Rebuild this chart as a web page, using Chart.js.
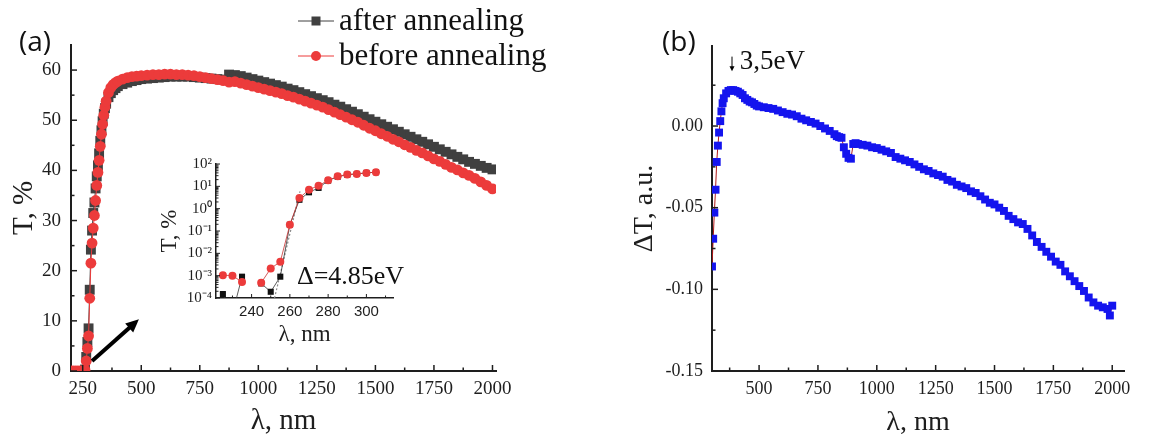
<!DOCTYPE html>
<html><head><meta charset="utf-8">
<script src="https://cdn.jsdelivr.net/npm/chart.js@4.4.1/dist/chart.umd.min.js"></script>
<style>
html,body{margin:0;padding:0;background:#fff;}
body{width:1158px;height:441px;position:relative;overflow:hidden;}
.box{position:absolute;}
</style></head><body>
<div class="box" style="left:0;top:0;width:580px;height:441px"><canvas id="ca" width="580" height="441"></canvas></div>
<div class="box" style="left:140px;top:150px;width:290px;height:200px"><canvas id="ci" width="290" height="200"></canvas></div>
<div class="box" style="left:620px;top:0;width:538px;height:441px"><canvas id="cb" width="538" height="441"></canvas></div>
<script>
// ---------- DATA ----------
const seriesNames = ['after annealing', 'before annealing'];

const wavelengthA = [200,210,220,230,240,250,255,260,265,270,275,280,285,290,295,300,305,310,315,320,325,330,335,340,345,350,360,370,380,390,400,420,440,460,480,500,
525,550,575,600,625,650,675,700,725,750,775,800,825,850,875,900,925,950,975,1000,1025,1050,1075,1100,1125,1150,1175,1200,1225,1250,1275,1300,1325,1350,1375,1400,1425,1450,1475,1500,1525,1550,1575,1600,1625,1650,1675,1700,1725,1750,1775,1800,1825,1850,1875,1900,1925,1950,1975,2000];

const afterAnnealing = [0,0,0,0,0,0,0,0.3,2.8,5.8,8.5,16.2,24.2,28,31.5,33.6,36.4,38.8,41,43.4,45.9,48,49.8,51.3,52.4,53.3,54.6,55.4,56.0,56.4,56.8,57.2,57.5,57.8,58.0,58.2,
58.3,58.4,58.5,58.6,58.7,58.7,58.7,58.7,58.6,58.5,58.4,58.3,58.2,58.1,59.1,59.0,58.8,58.5,58.2,57.9,57.6,57.3,57.0,56.7,56.3,56.0,55.6,55.2,54.8,54.4,54.0,53.6,53.1,52.7,52.2,51.7,51.2,50.7,50.2,49.7,49.2,48.7,48.2,47.7,47.2,46.7,46.2,45.7,45.2,44.7,44.2,43.7,43.2,42.7,42.2,41.7,41.3,40.9,40.5,40.2];

const beforeAnnealing = [0,0,0,0,0,0,0,0.2,2,4.5,7,14.5,21.5,25.5,28.5,31,34,37,39.6,42,44.8,47.2,49.2,51,52.6,53.8,55.5,56.5,57.1,57.5,57.8,58.2,58.5,58.7,58.8,58.9,
59.0,59.1,59.1,59.2,59.2,59.1,59.1,59.0,58.9,58.7,58.5,58.3,58.1,57.9,57.6,57.7,57.4,57.1,56.8,56.5,56.2,55.9,55.6,55.3,54.9,54.6,54.2,53.8,53.4,53.0,52.6,52.1,51.6,51.1,50.6,50.1,49.6,49.0,48.4,47.9,47.3,46.8,46.2,45.7,45.1,44.6,44.0,43.5,42.9,42.3,41.8,41.2,40.6,40.1,39.5,39.0,38.4,37.7,37.0,36.3];

const insetWavelength = [225,230,235,240,245,250,255,260,265,270,275,280,285,290,295,300,305];
const insetAfter  = [1.5e-4,2e-5,9e-4,null,4.5e-4,1.9e-4,9e-4,0.19,2.5,5.4,8.5,18,27,33,36,40,43];
const insetBefore = [1.05e-3,1e-3,5.2e-4,null,4.8e-4,2.1e-3,4.2e-3,0.19,3.0,7.1,10.7,18.6,28,34,36,40,43];
const insetTangentX = [252, 265.3];
const insetTangentY = [1e-4, 6];

const wavelengthB = [300,305,310,315,320,325,330,335,340,345,350,360,370,380,390,400,410,420,430,440,450,460,470,480,490,500,
520,540,560,580,600,620,640,660,680,700,720,740,760,780,800,820,830,840,850,860,870,880,890,900,910,920,940,960,980,1000,
1020,1040,1060,1080,1100,1120,1140,1160,1180,1200,1220,1240,1260,1280,1300,1320,1340,1360,1380,1400,1420,1440,1460,1480,1500,
1520,1540,1560,1580,1600,1620,1640,1660,1680,1700,1720,1740,1760,1780,1800,1820,1840,1860,1880,1900,1920,1940,1960,1980,1990,2000];
const deltaT = [-0.086,-0.069,-0.053,-0.039,-0.022,-0.012,-0.004,0.003,0.009,0.014,0.017,0.020,0.0215,0.022,0.022,0.0215,0.021,0.020,0.019,0.017,0.016,0.015,0.0145,0.0135,0.0125,0.012,
0.0115,0.011,0.0105,0.0095,0.0085,0.0075,0.007,0.006,0.0045,0.0035,0.0025,0.0015,0.000,-0.0015,-0.003,-0.005,-0.0062,-0.0068,-0.0072,-0.013,-0.017,-0.0195,-0.020,-0.011,-0.0105,-0.011,-0.0115,-0.012,-0.013,-0.0135,
-0.0145,-0.0155,-0.0165,-0.019,-0.020,-0.021,-0.022,-0.0235,-0.025,-0.0265,-0.0275,-0.029,-0.030,-0.031,-0.033,-0.034,-0.036,-0.037,-0.038,-0.040,-0.041,-0.043,-0.045,-0.047,-0.048,
-0.050,-0.052,-0.055,-0.057,-0.059,-0.060,-0.063,-0.067,-0.071,-0.074,-0.077,-0.080,-0.083,-0.085,-0.089,-0.092,-0.095,-0.098,-0.101,-0.105,-0.108,-0.110,-0.111,-0.112,-0.116,-0.110];

// tick labels
const aXTicks = [250,500,750,1000,1250,1500,1750,2000];
const aYTicks = [0,10,20,30,40,50,60];
const insetXTicks = [240,260,280,300];
const insetYTicks = [1e-4,1e-3,1e-2,1e-1,1,10,100];
const insetYLabels = ['10\u207B\u2074','10\u207B\u00B3','10\u207B\u00B2','10\u207B\u00B9','10\u2070','10\u00B9','10\u00B2'];
const bXTicks = [500,750,1000,1250,1500,1750,2000];
const bYTicks = [0,-0.05,-0.10,-0.15];
const bYLabels = ['0.00','-0.05','-0.10','-0.15'];

// ---------- HELPERS ----------
const SERIF = '"Liberation Serif", "Times New Roman", serif';
const AXC = '#1e1e1e';
Chart.defaults.font.family = SERIF;
Chart.defaults.color = AXC;
const sf = size => ({ size, family: SERIF });

const pts = (xs, ys) => xs.map((x, i) => ({x, y: ys[i]}));
const mids = a => a.slice(0, -1).map((v, i) => (v + a[i + 1]) / 2);

function linAxis(min, max, ticks, labels, fit, titleText, titleFont, titlePad, tickFont, tickPad, bw) {
  return {
    type: 'linear', min, max,
    afterBuildTicks: s => { s.ticks = ticks.map(v => ({value: v})); },
    afterFit: fit,
    ticks: { font: tickFont, color: AXC, padding: tickPad, autoSkip: false, maxRotation: 0,
             callback: (v, i) => labels ? labels[i] : String(v) },
    grid: { display: true, drawOnChartArea: false, drawTicks: false },
    border: { display: true, color: AXC, width: bw },
    title: { display: true, text: titleText, font: titleFont, color: AXC, padding: titlePad }
  };
}

const innerTicks = {
  id: 'innerTicks',
  afterDraw(chart, args, o) {
    const ctx = chart.ctx;
    ctx.save();
    ctx.strokeStyle = AXC;
    ctx.lineWidth = o.width || 1.5;
    for (const id of Object.keys(o.axes || {})) {
      const s = chart.scales[id];
      const spec = o.axes[id];
      const lo = Math.min(s.min, s.max), hi = Math.max(s.min, s.max);
      const draw = (v, len) => {
        if (v < lo - 1e-12 || v > hi + 1e-12) return;
        const p = s.getPixelForValue(v);
        ctx.beginPath();
        if (s.isHorizontal()) { ctx.moveTo(p, s.top); ctx.lineTo(p, s.top - len); }
        else { ctx.moveTo(s.right, p); ctx.lineTo(s.right + len, p); }
        ctx.stroke();
      };
      spec.major.forEach(v => draw(v, o.majorLen));
      spec.minor.forEach(v => draw(v, o.minorLen));
    }
    ctx.restore();
  }
};

function arrow(ctx, x1, y1, x2, y2, w, head, hw) {
  const a = Math.atan2(y2 - y1, x2 - x1);
  ctx.save();
  ctx.strokeStyle = '#000'; ctx.fillStyle = '#000'; ctx.lineWidth = w;
  ctx.beginPath(); ctx.moveTo(x1, y1);
  ctx.lineTo(x2 - head * 0.8 * Math.cos(a), y2 - head * 0.8 * Math.sin(a)); ctx.stroke();
  ctx.beginPath(); ctx.moveTo(x2, y2);
  ctx.lineTo(x2 - head * Math.cos(a) + hw * Math.sin(a), y2 - head * Math.sin(a) - hw * Math.cos(a));
  ctx.lineTo(x2 - head * Math.cos(a) - hw * Math.sin(a), y2 - head * Math.sin(a) + hw * Math.cos(a));
  ctx.closePath(); ctx.fill();
  ctx.restore();
}

const BLACK = '#404040', RED = '#ec3b3b', BLUE = '#1414ee', DRED = '#b01818';

// ---------- PANEL (a) ----------
const panelA = {
  id: 'panelA',
  afterDraw(chart) {
    const ctx = chart.ctx, xs = chart.scales.x, ys = chart.scales.y;
    ctx.save();
    ctx.font = '28px "Open Sans"'; ctx.fillStyle = '#111'; ctx.textBaseline = 'middle'; ctx.textAlign = 'left';
    ctx.fillText('(a)', 19, 43);
    const rows = [21, 56];
    chart.data.datasets.forEach((ds, i) => {
      const y = rows[i];
      ctx.strokeStyle = ds.borderColor; ctx.lineWidth = 1;
      ctx.beginPath(); ctx.moveTo(298, y); ctx.lineTo(334, y); ctx.stroke();
      ctx.fillStyle = ds.pointBackgroundColor;
      if (ds.pointStyle === 'rect') ctx.fillRect(316 - 4.5, y - 4.5, 9, 9);
      else { ctx.beginPath(); ctx.arc(316, y, 5, 0, Math.PI * 2); ctx.fill(); }
      ctx.fillStyle = '#111'; ctx.font = '31px ' + SERIF;
      ctx.fillText(ds.label, 339, y + 1);
    });
    arrow(ctx, xs.getPixelForValue(290), ys.getPixelForValue(2), xs.getPixelForValue(490), ys.getPixelForValue(10.3), 4, 13, 6);
    ctx.restore();
  }
};

new Chart(document.getElementById('ca'), {
  type: 'scatter',
  data: { datasets: [
    { label: seriesNames[0], data: pts(wavelengthA, afterAnnealing), showLine: true, borderColor: BLACK, borderWidth: 1,
      pointStyle: 'rect', pointRadius: 7, pointBackgroundColor: BLACK, pointBorderColor: BLACK, pointBorderWidth: 0, order: 2 },
    { label: seriesNames[1], data: pts(wavelengthA, beforeAnnealing), showLine: true, borderColor: RED, borderWidth: 1,
      pointStyle: 'circle', pointRadius: 5.4, pointBackgroundColor: RED, pointBorderColor: RED, pointBorderWidth: 0, order: 1 }
  ]},
  options: {
    responsive: false, animation: false, events: [],
    layout: { padding: { left: 0, top: 45, right: 84, bottom: 0 } },
    scales: {
      x: linAxis(200, 2015, aXTicks, null, s => { s.height = 70; }, '\u03BB, nm', sf(29), {top: 0, bottom: 2}, sf(19), 7, 2),
      y: linAxis(0, 65, aYTicks, null, s => { s.width = 71; }, 'T, %', sf(29), {top: 7, bottom: 0}, sf(19), 10, 2)
    },
    plugins: {
      legend: { display: false }, tooltip: { enabled: false },
      innerTicks: { width: 1.5, majorLen: 6, minorLen: 3.5,
        axes: { x: { major: aXTicks, minor: mids(aXTicks) }, y: { major: aYTicks, minor: mids(aYTicks) } } }
    }
  },
  plugins: [innerTicks, panelA]
});

// ---------- INSET ----------
const logMinor = [];
for (let e = -4; e < 2; e++) for (let k = 2; k <= 9; k++) logMinor.push(k * Math.pow(10, e));

const insetDeco = {
  id: 'insetDeco',
  afterDraw(chart) {
    const ctx = chart.ctx, xs = chart.scales.x, ys = chart.scales.y;
    ctx.save();
    ctx.font = '26px ' + SERIF; ctx.fillStyle = '#111'; ctx.textBaseline = 'middle'; ctx.textAlign = 'left';
    ctx.fillText('\u0394=4.85eV', xs.getPixelForValue(263.7), ys.getPixelForValue(8.8e-4));
    ctx.restore();
  }
};

new Chart(document.getElementById('ci'), {
  type: 'scatter',
  data: { datasets: [
    { label: 'tangent', data: pts(insetTangentX, insetTangentY), showLine: true, borderColor: '#8a8a8a', borderWidth: 1.2,
      borderDash: [2, 2], pointRadius: 0, order: 3 },
    { label: seriesNames[0], data: pts(insetWavelength, insetAfter), showLine: true, spanGaps: false, borderColor: '#333', borderWidth: 0.8,
      pointStyle: 'rect', pointRadius: 4.3, pointBackgroundColor: '#111', pointBorderWidth: 0, order: 2 },
    { label: seriesNames[1], data: pts(insetWavelength, insetBefore), showLine: true, spanGaps: false, borderColor: '#c83030', borderWidth: 0.8,
      pointStyle: 'circle', pointRadius: 4, pointBackgroundColor: RED, pointBorderWidth: 0, order: 1 }
  ]},
  options: {
    responsive: false, animation: false, events: [],
    layout: { padding: { left: 0, top: 14, right: 37, bottom: 0 } },
    scales: {
      x: linAxis(221.4, 313.9, insetXTicks, null, s => { s.height = 52; }, '\u03BB, nm', sf(23), {top: 0, bottom: 1}, {size: 15, family: '"Liberation Sans", Arial, sans-serif'}, 5, 1.5),
      y: Object.assign(linAxis(1e-4, 100, insetYTicks, insetYLabels, s => { s.width = 76; }, 'T, %', sf(23), {top: 16, bottom: 0}, sf(15), 4, 1.5), { type: 'logarithmic' })
    },
    plugins: {
      legend: { display: false }, tooltip: { enabled: false },
      innerTicks: { width: 1, majorLen: 4, minorLen: 2.5,
        axes: { x: { major: insetXTicks, minor: [230, 250, 270, 290, 310] }, y: { major: insetYTicks, minor: logMinor } } }
    }
  },
  plugins: [innerTicks, insetDeco]
});

// ---------- PANEL (b) ----------
const panelB = {
  id: 'panelB',
  afterDraw(chart) {
    const ctx = chart.ctx, xs = chart.scales.x, ys = chart.scales.y;
    ctx.save();
    ctx.font = '28px "Open Sans"'; ctx.fillStyle = '#111'; ctx.textBaseline = 'middle'; ctx.textAlign = 'left';
    ctx.fillText('(b)', 42, 43);
    const ax = xs.getPixelForValue(385);
    arrow(ctx, ax, ys.getPixelForValue(0.0425), ax, ys.getPixelForValue(0.0335), 1, 5, 2.5);
    ctx.font = '27px ' + SERIF;
    ctx.fillText('3,5eV', xs.getPixelForValue(418), ys.getPixelForValue(0.0395));
    ctx.restore();
  }
};

new Chart(document.getElementById('cb'), {
  type: 'scatter',
  data: { datasets: [
    { label: '\u0394T', data: pts(wavelengthB, deltaT), showLine: true, borderColor: DRED, borderWidth: 1,
      pointStyle: 'rect', pointRadius: 5.6, pointBackgroundColor: BLUE, pointBorderWidth: 0 }
  ]},
  options: {
    responsive: false, animation: false, events: [],
    layout: { padding: { left: 0, top: 46, right: 34, bottom: 0 } },
    scales: {
      x: linAxis(300, 2050, bXTicks, null, s => { s.height = 70; }, '\u03BB, nm', sf(28), {top: 0, bottom: 2}, sf(18), 7, 2),
      y: linAxis(-0.15, 0.049, bYTicks, bYLabels, s => { s.width = 92; }, '\u0394T, a.u.', sf(28), {top: 8, bottom: 0}, sf(18), 9, 2)
    },
    plugins: {
      legend: { display: false }, tooltip: { enabled: false },
      innerTicks: { width: 1.5, majorLen: 6, minorLen: 3.5,
        axes: { x: { major: bXTicks, minor: [375].concat(mids(bXTicks)) }, y: { major: bYTicks, minor: [0.025, -0.025, -0.075, -0.125] } } }
    }
  },
  plugins: [innerTicks, panelB]
});
</script>
</body></html>
